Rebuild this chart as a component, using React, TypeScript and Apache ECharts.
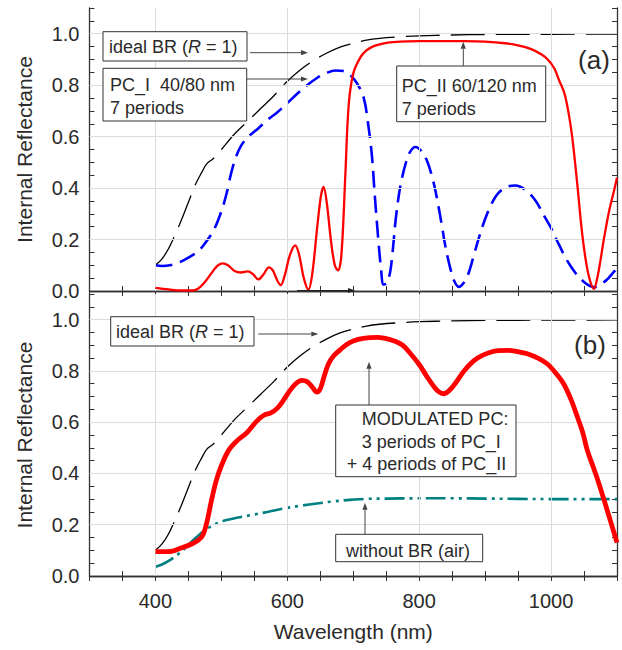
import React, { useEffect, useRef } from "react";
import * as echarts from "echarts";

// ---- Data ----
const brX = [400, 410, 420, 430, 440, 450, 460, 470, 478, 488, 500, 520, 540, 560, 580, 600, 620, 640, 660, 680, 700, 720, 740, 770, 800, 850, 900, 1000, 1100];
const brY = [0.1, 0.125, 0.165, 0.22, 0.28, 0.345, 0.41, 0.46, 0.495, 0.515, 0.55, 0.61, 0.66, 0.71, 0.76, 0.815, 0.86, 0.896, 0.925, 0.948, 0.963, 0.975, 0.982, 0.988, 0.992, 0.995, 0.997, 0.998, 0.999];

const pc1X = [400, 410, 422, 435, 450, 465, 478, 490, 500, 508, 515, 522, 530, 541, 555, 570, 585, 600, 615, 630, 645, 660, 673, 685, 695, 706, 716, 722, 728, 733, 738, 742, 746, 751, 756, 760, 764, 769, 774, 780, 786, 794, 803, 812, 820, 827, 834, 840, 847, 853, 860, 867, 875, 883, 891, 900, 910, 920, 933, 946, 960, 976, 990, 1000, 1012, 1024, 1037, 1050, 1060, 1067, 1075, 1085, 1092, 1100];
const pc1Y = [0.1, 0.097, 0.1, 0.11, 0.13, 0.155, 0.195, 0.245, 0.31, 0.38, 0.46, 0.52, 0.565, 0.6, 0.63, 0.665, 0.695, 0.73, 0.767, 0.8, 0.828, 0.848, 0.857, 0.855, 0.84, 0.806, 0.75, 0.66, 0.534, 0.36, 0.2, 0.09, 0.025, 0.03, 0.075, 0.16, 0.27, 0.37, 0.44, 0.5, 0.54, 0.56, 0.545, 0.505, 0.44, 0.36, 0.26, 0.17, 0.09, 0.04, 0.016, 0.03, 0.07, 0.14, 0.21, 0.28, 0.34, 0.38, 0.405, 0.41, 0.395, 0.353, 0.29, 0.245, 0.18, 0.12, 0.07, 0.035, 0.018, 0.015, 0.025, 0.045, 0.065, 0.088];

const pc2X = [400, 420, 440, 455, 465, 475, 488, 495, 502, 510, 520, 530, 540, 548, 556, 564, 572, 578, 585, 590, 596, 604, 612, 618, 625, 632, 638, 645, 651, 655, 660, 666, 672, 677, 682, 688, 693, 700, 711, 720, 731, 745, 760, 800, 870, 900, 930, 950, 970, 985, 995, 1005, 1012, 1020, 1026, 1032, 1040, 1046, 1052, 1058, 1065, 1070, 1075, 1080, 1088, 1095, 1100];
const pc2Y = [0.012, 0.006, 0.002, 0.002, 0.01, 0.035, 0.08, 0.1, 0.107, 0.1, 0.078, 0.072, 0.076, 0.065, 0.045, 0.065, 0.092, 0.08, 0.04, 0.023, 0.06, 0.14, 0.177, 0.14, 0.05, 0.005, 0.07, 0.24, 0.37, 0.405, 0.34, 0.2, 0.1, 0.08, 0.14, 0.45, 0.72, 0.845, 0.909, 0.935, 0.952, 0.962, 0.967, 0.971, 0.971, 0.969, 0.963, 0.955, 0.94, 0.92, 0.9, 0.865, 0.82, 0.77, 0.7, 0.6, 0.41, 0.25, 0.13, 0.05, 0.008, 0.05, 0.12, 0.2, 0.31, 0.385, 0.44];

const modX = [400, 420, 440, 455, 465, 472, 478, 485, 492, 500, 511, 524, 539, 554, 565, 575, 585, 594, 603, 612, 622, 630, 637, 645, 650, 656, 662, 670, 680, 690, 700, 715, 736, 750, 761, 775, 787, 800, 812, 822, 830, 837, 845, 855, 868, 883, 895, 908, 920, 935, 950, 964, 980, 994, 1006, 1019, 1030, 1040, 1048, 1055, 1064, 1072, 1080, 1090, 1100];
const modY = [0.095, 0.095, 0.11, 0.125, 0.14, 0.16, 0.21, 0.295, 0.37, 0.43, 0.49, 0.528, 0.56, 0.605, 0.628, 0.636, 0.655, 0.685, 0.72, 0.748, 0.763, 0.758, 0.74, 0.717, 0.73, 0.78, 0.825, 0.858, 0.882, 0.903, 0.917, 0.927, 0.931, 0.926, 0.918, 0.9, 0.867, 0.825, 0.777, 0.74, 0.718, 0.711, 0.722, 0.752, 0.8, 0.84, 0.86, 0.873, 0.879, 0.88, 0.875, 0.867, 0.85, 0.828, 0.795, 0.75, 0.69, 0.62, 0.56, 0.49, 0.425, 0.365, 0.3, 0.215, 0.13];

const airX = [400, 410, 422, 432, 442, 452, 463, 473, 483, 495, 508, 525, 544, 570, 594, 620, 645, 670, 695, 720, 750, 800, 850, 900, 950, 1000, 1050, 1100];
const airY = [0.036, 0.045, 0.062, 0.08, 0.101, 0.127, 0.153, 0.175, 0.192, 0.207, 0.218, 0.228, 0.237, 0.25, 0.263, 0.274, 0.283, 0.291, 0.297, 0.301, 0.302, 0.303, 0.303, 0.302, 0.301, 0.3, 0.3, 0.3];

const xGridValues = [400, 600, 800, 1000];
const yGridValues = [0.2, 0.4, 0.6, 0.8, 1.0];

const FONT = '"Liberation Sans", Arial, Helvetica, sans-serif';
const TXT = "#2a2a2a";
const AX = "#333";

const pairs = (xs: number[], ys: number[]) => xs.map((x, i) => [x, ys[i]]);

function arrow(x1: number, y1: number, x2: number, y2: number, color = "#444") {
  const dx = x2 - x1, dy = y2 - y1;
  const L = Math.sqrt(dx * dx + dy * dy);
  const ux = dx / L, uy = dy / L;
  const hl = 7, hw = 2.6;
  const bx = x2 - ux * hl, by = y2 - uy * hl;
  return [
    { type: "line", z: 101, shape: { x1, y1, x2: bx, y2: by }, style: { stroke: color, lineWidth: 1 } },
    {
      type: "polygon", z: 101,
      shape: { points: [[x2, y2], [bx - uy * hw, by + ux * hw], [bx + uy * hw, by - ux * hw]] },
      style: { fill: color },
    },
  ];
}

function box(x: number, y: number, w: number, h: number) {
  return { type: "rect", z: 100, shape: { x, y, width: w, height: h }, style: { fill: "#fff", stroke: "#333", lineWidth: 1 } };
}

function txt(x: number, y: number, text: string, size = 18, extra: any = {}) {
  return {
    type: "text", z: 102, x, y,
    style: {
      text, fontSize: size, fontFamily: FONT, fill: TXT, verticalAlign: "middle", align: "left",
      rich: { i: { fontStyle: "italic", fontSize: size, fontFamily: FONT, fill: TXT } },
      ...extra,
    },
  };
}

function makeAxes(gi: number, showLabels: boolean) {
  const tick = { inside: true, length: 5, lineStyle: { color: AX, width: 1 } };
  const line = { show: true, lineStyle: { color: AX, width: 1.3 } };
  const xs = [
    {
      type: "value", gridIndex: gi, position: "bottom", min: 300, max: 1100, interval: 50,
      axisLine: line, axisTick: tick, splitLine: { show: false },
      axisLabel: {
        show: showLabels, margin: 15, color: TXT, fontSize: 20, fontFamily: FONT,
        formatter: (v: number) => (v % 200 === 0 && v >= 400 && v <= 1000 ? String(v) : ""),
      },
      name: showLabels ? "Wavelength (nm)" : "", nameLocation: "middle", nameGap: 45,
      nameTextStyle: { color: TXT, fontSize: 21, fontFamily: FONT },
    },
    {
      type: "value", gridIndex: gi, position: "top", min: 300, max: 1100, interval: 50,
      axisLine: line, axisTick: tick, splitLine: { show: false }, axisLabel: { show: false },
    },
  ];
  const ys = [
    {
      type: "value", gridIndex: gi, position: "left", min: 0, max: 1.1, interval: 0.05,
      axisLine: line, axisTick: tick, splitLine: { show: false },
      axisLabel: {
        margin: 10, color: TXT, fontSize: 20, fontFamily: FONT,
        formatter: (v: number) => {
          const k = Math.round(v * 20);
          return k % 4 === 0 && k <= 20 ? (k / 20).toFixed(1) : "";
        },
      },
      name: "Internal Reflectance", nameLocation: "middle", nameGap: 55,
      nameTextStyle: { color: TXT, fontSize: 21, fontFamily: FONT },
    },
    {
      type: "value", gridIndex: gi, position: "right", min: 0, max: 1.1, interval: 0.05,
      axisLine: line, axisTick: tick, splitLine: { show: false }, axisLabel: { show: false },
    },
  ];
  return { xs, ys };
}

export default function App() {
  const ref = useRef<HTMLDivElement>(null);
  useEffect(() => {
    if (!ref.current) return;
    const chart = echarts.init(ref.current, null, { renderer: "svg" });
    const a = makeAxes(0, false);
    const b = makeAxes(1, true);

    const gridSeries = (xi: number, yi: number) => ({
      type: "line", xAxisIndex: xi, yAxisIndex: yi, data: [], z: 1, silent: true,
      markLine: {
        silent: true, symbol: ["none", "none"], label: { show: false },
        lineStyle: { color: "#dcdcdc", width: 1, type: "solid" },
        data: [...xGridValues.map((v) => ({ xAxis: v })), ...yGridValues.map((v) => ({ yAxis: v }))],
      },
    });

    const lineS = (xi: number, yi: number, d: number[][], color: string, width: number, type: any, z: number) => ({
      type: "line", xAxisIndex: xi, yAxisIndex: yi, data: d, showSymbol: false, symbol: "none",
      smooth: 0.35, z, lineStyle: { color, width, type, cap: "butt" },
    });

    chart.setOption({
      animation: false,
      backgroundColor: "#fff",
      grid: [
        { left: 89.5, right: 5, top: 8, height: 283 },
        { left: 89.5, right: 5, top: 294, height: 282 },
      ],
      xAxis: [...a.xs, ...b.xs],
      yAxis: [...a.ys, ...b.ys],
      series: [
        gridSeries(0, 0),
        gridSeries(2, 2),
        lineS(0, 0, pairs(brX, brY), "#000", 1.3, [34, 11], 3),
        lineS(0, 0, pairs(pc1X, pc1Y), "#0000ff", 2.6, [17, 8], 4),
        lineS(0, 0, pairs(pc2X, pc2Y), "#ff0000", 2.3, "solid", 5),
        lineS(2, 2, pairs(brX, brY), "#000", 1.3, [34, 11], 3),
        lineS(2, 2, pairs(airX, airY), "#008080", 2.6, [20, 5, 3, 5, 3, 5], 4),
        lineS(2, 2, pairs(modX, modY), "#ff0000", 4.8, "solid", 5),
      ],
      graphic: [
        // panel (a)
        box(103, 31.7, 144, 29.3),
        txt(109, 46.5, "ideal BR ({i|R} = 1)"),
        ...arrow(250, 52.7, 308, 52.7),
        box(103, 68.3, 143.7, 52.7),
        txt(110, 85, "PC_I  40/80 nm"),
        txt(110, 107.5, "7 periods"),
        ...arrow(246.7, 79, 308, 79),
        box(396.7, 66, 149, 55.7),
        txt(401.7, 86, "PC_II 60/120 nm"),
        txt(401.7, 108.5, "7 periods"),
        ...arrow(463.3, 66, 463.3, 41.7),
        txt(594, 60, "(a)", 26, { align: "center" }),
        ...arrow(297, 290.5, 355, 290.5, "#222"),
        // panel (b)
        box(110.7, 316.7, 143.3, 29.3),
        txt(116, 331.7, "ideal BR ({i|R} = 1)"),
        ...arrow(258.3, 334, 318.3, 334),
        box(335.7, 405, 180.3, 71.7),
        txt(361.7, 419.3, "MODULATED PC:"),
        txt(361.7, 442.3, "3 periods of PC_I"),
        txt(346.7, 464.3, "+ 4 periods of PC_II"),
        ...arrow(369, 405, 369, 361.7),
        box(335.7, 534.3, 147, 27.4),
        txt(346, 550.7, "without BR (air)"),
        ...arrow(365, 534.3, 365, 502.7),
        txt(590, 345, "(b)", 26, { align: "center" }),
      ],
    });
    return () => chart.dispose();
  }, []);
  return <div ref={ref} style={{ position: "fixed", left: 0, top: 0, width: 622, height: 650 }} />;
}
